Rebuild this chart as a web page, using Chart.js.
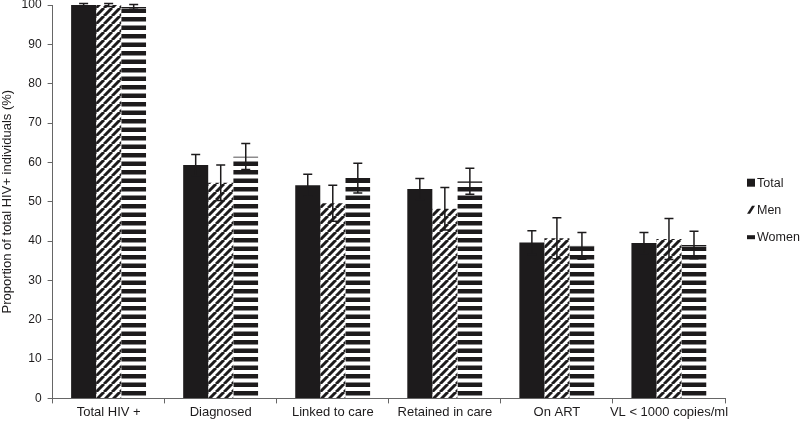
<!DOCTYPE html>
<html>
<head>
<meta charset="utf-8">
<script src="https://cdn.jsdelivr.net/npm/chart.js@4"></script>
<style>
  html, body { margin: 0; padding: 0; background: #fff; }
  #wrap { width: 800px; height: 425px; }
</style>
</head>
<body>
<div id="wrap"><canvas id="cascade"></canvas></div>
<script>
// categories and values
const categories = ['Total HIV +', 'Diagnosed', 'Linked to care', 'Retained in care', 'On ART', 'VL < 1000 copies/ml'];
const seriesNames = ['Total', 'Men', 'Women'];
const totalValues = [100, 59.3, 54.2, 53.2, 39.6, 39.5];
const menValues = [100, 54.8, 49.6, 48.2, 40.7, 40.5];
const womenValues = [99.5, 61.5, 56.0, 55.2, 38.8, 39.0];
// half width of the error bars
const totalErr = [0.4, 2.7, 2.8, 2.7, 3.0, 2.7];
const menErr = [0.4, 4.5, 4.6, 5.4, 5.2, 5.2];
const womenErr = [0.6, 3.3, 3.8, 3.3, 3.4, 3.5];
const yTicks = [0, 10, 20, 30, 40, 50, 60, 70, 80, 90, 100];

const INK = '#1d1b1c';
const FONT = '"Liberation Sans", Arial, sans-serif';

// diagonal hatch (Men)
function diagPattern() {
  const s = 8;
  const c = document.createElement('canvas');
  c.width = s; c.height = s;
  const g = c.getContext('2d');
  g.fillStyle = '#fff';
  g.fillRect(0, 0, s, s);
  g.strokeStyle = INK;
  g.lineWidth = 3;
  for (const o of [-s, 0, s]) {
    g.beginPath();
    g.moveTo(o, s);
    g.lineTo(o + s, 0);
    g.stroke();
  }
  return g.createPattern(c, 'repeat');
}

// horizontal stripes (Women)
function stripePattern() {
  const c = document.createElement('canvas');
  c.width = 4; c.height = 17;
  const g = c.getContext('2d');
  g.fillStyle = '#fff';
  g.fillRect(0, 0, 4, 17);
  g.fillStyle = INK;
  g.fillRect(0, 0, 4, 4.5);
  g.fillRect(0, 8.5, 4, 4.5);
  return g.createPattern(c, 'repeat');
}

// error bars drawn from each bar element and the y scale
const errorBars = {
  id: 'errorBars',
  afterDatasetsDraw(chart) {
    const ctx = chart.ctx;
    const y = chart.scales.y;
    ctx.save();
    ctx.strokeStyle = INK;
    ctx.lineWidth = 1.5;
    chart.data.datasets.forEach((ds, i) => {
      const meta = chart.getDatasetMeta(i);
      meta.data.forEach((bar, j) => {
        const v = ds.data[j];
        const e = ds.errors[j];
        const top = y.getPixelForValue(v + e);
        const bot = y.getPixelForValue(v - e);
        const x = bar.x;
        ctx.beginPath();
        ctx.moveTo(x, top); ctx.lineTo(x, bot);
        ctx.moveTo(x - 4.5, top); ctx.lineTo(x + 4.5, top);
        ctx.moveTo(x - 4.5, bot); ctx.lineTo(x + 4.5, bot);
        ctx.stroke();
      });
    });
    ctx.restore();
  }
};

// small legend to the right of the plot, with the figure's little glyphs
const sideLegend = {
  id: 'sideLegend',
  afterDraw(chart) {
    const ctx = chart.ctx;
    const x0 = chart.chartArea.right + 22;
    const mid = (chart.chartArea.top + chart.chartArea.bottom) / 2;
    const rows = [mid - 19, mid + 8, mid + 35];
    ctx.save();
    ctx.fillStyle = INK;
    ctx.font = '12.5px ' + FONT;
    ctx.textBaseline = 'middle';
    seriesNames.forEach((name, i) => {
      const cy = rows[i];
      if (i === 0) {
        ctx.fillRect(x0, cy - 4, 8, 8);
      } else if (i === 1) {
        ctx.beginPath();
        ctx.moveTo(x0, cy + 4);
        ctx.lineTo(x0 + 3, cy + 4);
        ctx.lineTo(x0 + 8, cy - 4);
        ctx.lineTo(x0 + 5, cy - 4);
        ctx.closePath();
        ctx.fill();
      } else {
        ctx.fillRect(x0, cy - 1.5, 8, 4);
      }
      ctx.fillText(name, x0 + 10, cy + 1);
    });
    ctx.restore();
  }
};

const ctx = document.getElementById('cascade').getContext('2d');
new Chart(ctx, {
  type: 'bar',
  data: {
    labels: categories,
    datasets: [
      { label: seriesNames[0], data: totalValues, errors: totalErr, backgroundColor: INK },
      { label: seriesNames[1], data: menValues, errors: menErr, backgroundColor: diagPattern() },
      { label: seriesNames[2], data: womenValues, errors: womenErr, backgroundColor: stripePattern(),
        borderColor: INK, borderWidth: { top: 1, left: 0, right: 0, bottom: 0 }, borderSkipped: 'bottom' },
    ],
  },
  options: {
    responsive: true,
    maintainAspectRatio: false,
    animation: false,
    layout: { padding: { top: 5, right: 75, left: 0, bottom: 4 } },
    datasets: {
      bar: { categoryPercentage: 0.67, barPercentage: 1.0 },
    },
    scales: {
      x: {
        grid: { display: true, drawOnChartArea: false, offset: true, color: '#666', tickLength: 5 },
        border: { color: '#666' },
        ticks: { color: INK, font: { family: FONT, size: 13 }, maxRotation: 0, autoSkip: false, padding: 1 },
      },
      y: {
        min: 0,
        max: 100,
        afterBuildTicks(axis) { axis.ticks = yTicks.map(v => ({ value: v })); },
        afterFit(axis) { axis.paddingTop = 0; axis.paddingBottom = 0; },
        grid: { display: true, drawOnChartArea: false, color: '#666', tickLength: 5 },
        border: { color: '#666' },
        ticks: { color: INK, font: { family: FONT, size: 12 }, padding: 6 },
        title: { display: true, text: 'Proportion of total HIV+ individuals (%)', color: INK,
          font: { family: FONT, size: 13 }, padding: { top: 0, bottom: 0 } },
      },
    },
    plugins: {
      legend: { display: false },
      tooltip: { enabled: false },
    },
  },
  plugins: [errorBars, sideLegend],
});
</script>
</body>
</html>
